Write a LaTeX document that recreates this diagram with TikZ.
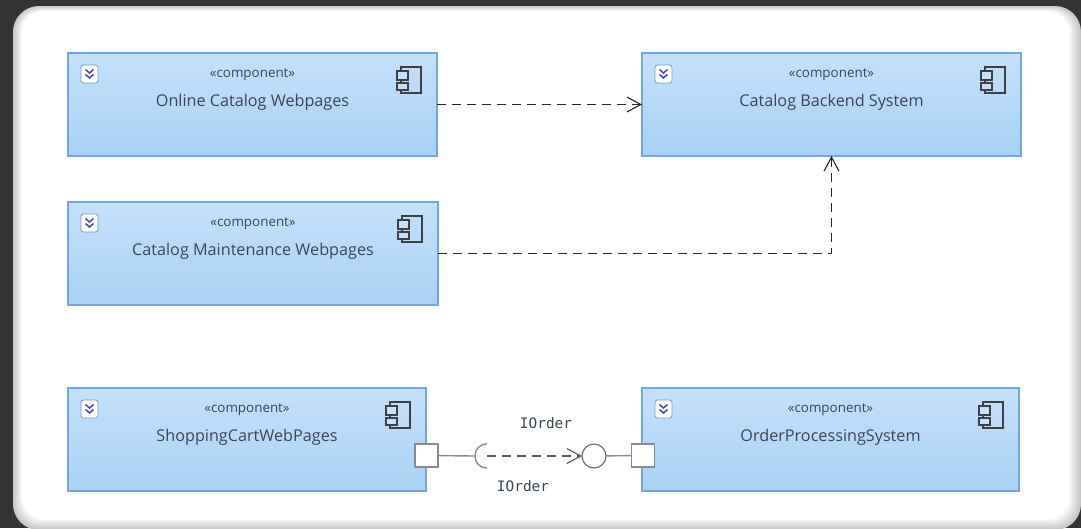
\documentclass[tikz,border=0pt]{standalone}
\usepackage{fontspec}
\setmainfont{Open Sans}
\newfontfamily\portfont{DejaVu Sans Mono}
\usetikzlibrary{arrows.meta}
\definecolor{backdrop}{HTML}{333333}
\definecolor{compedge}{HTML}{74A6DE}
\definecolor{comptop}{HTML}{C5E0FB}
\definecolor{compbot}{HTML}{A9D1F3}
\definecolor{comptext}{HTML}{3A4656}
\definecolor{portline}{HTML}{8A8A8A}
\tikzset{
  comp/.style={draw=compedge,line width=1.2pt,top color=comptop,bottom color=compbot,
    anchor=north west,outer sep=0pt,inner sep=0pt},
  stereo/.style={font=\fontsize{13.4}{15}\selectfont,text=comptext},
  title/.style={font=\fontsize{16.2}{18}\selectfont,text=comptext},
  dep/.style={draw=black!85,line width=1.4pt,dash pattern=on 9pt off 6pt,
    -{Straight Barb[length=14pt,width=15pt,line width=1.1pt]}},
  port/.style={draw=portline,line width=1.5pt,fill=white,minimum size=23pt,inner sep=0pt,outer sep=0pt},
  ball/.style={draw=black!60,line width=1.1pt,fill=white,circle,minimum size=24pt,inner sep=0pt,outer sep=0pt},
  iface/.style={font=\portfont\fontsize{14.4}{16}\selectfont,text=comptext},
  wire/.style={draw=portline,line width=1.4pt}
}
% one component box with its texts, badge and icon
\newcommand{\compbox}[6]{%
  \node[comp,minimum width=#4pt,minimum height=#5pt] (#1) at (#2,#3) {};
  \node[stereo] (#1-st) at ([yshift=-21.5pt]#1.north) {«component»};
  \node[title] (#1-tt) at ([yshift=-49pt]#1.north) {#6};
  \begin{scope}[shift={(#1.north west)}]
    \draw[draw=compedge!70!gray,fill=white,rounded corners=2.5pt,line width=.8pt] (13,12) rectangle (30,30);
    \draw[draw=blue!45!gray,line width=1.5pt] (17.5,16.5) -- (21.5,20) -- (25.5,16.5) (17.5,21.5) -- (21.5,25) -- (25.5,21.5);
  \end{scope}
  \begin{scope}[shift={(#1.north east)},draw=black!75,line width=1.9pt]
    \draw (-36,14) rectangle (-16,40);
    \draw[fill=comptop] (-40,18) rectangle (-29,27);
    \draw[fill=comptop] (-40,30) rectangle (-29,37);
  \end{scope}
}
\begin{document}
\begin{tikzpicture}[x=1pt,y=-1pt]
  \useasboundingbox (0,0) rectangle (1081,528);
  \fill[backdrop] (0,0) rectangle (1081,528);
  % frame, from grey at the rim to white inside
  \foreach \k in {0,...,10}
    \fill[white!\the\numexpr 55+\k*45/10\relax!gray,rounded corners={26pt-\k*0.4pt}]
      (13+\k*0.9,6+\k*0.5) rectangle (1081-\k*1.2,530-\k*1.1);

  \compbox{online}{68}{53}{369}{103}{Online Catalog Webpages}
  \compbox{backend}{642}{53}{379}{103}{Catalog Backend System}
  \compbox{maint}{68}{202}{370}{103}{Catalog Maintenance Webpages}
  \compbox{cart}{68}{388}{358}{103}{ShoppingCartWebPages}
  \compbox{order}{642}{388}{377}{103}{OrderProcessingSystem}

  \node[port] (cartport) at (426.5,455.5) {};
  \node[port] (orderport) at (643,455.5) {};
  \node[ball] (provided) at (594,456) {};
  \coordinate (socket) at (475,456);
  \coordinate (sockettop) at (487,444);
  \coordinate (socketbot) at (487,468);
  \coordinate (depstart) at (487,456);
  \node[iface] (ifaceup) at (546,423) {IOrder};
  \node[iface] (ifacedown) at (523,486) {IOrder};

  \path
    (online) edge[dep] (backend)
    (depstart) edge[dep,draw=black!65,line width=1.8pt] (provided);
  \draw[dep] (maint.east) -| (backend.south);
  \draw[wire] (cartport) -- (socket);
  \draw[wire] (provided) -- (orderport);
  \draw[wire] (sockettop) .. controls (479,444) and (475,450) .. (socket)
    .. controls (475,462) and (479,468) .. (socketbot);
\end{tikzpicture}
\end{document}
